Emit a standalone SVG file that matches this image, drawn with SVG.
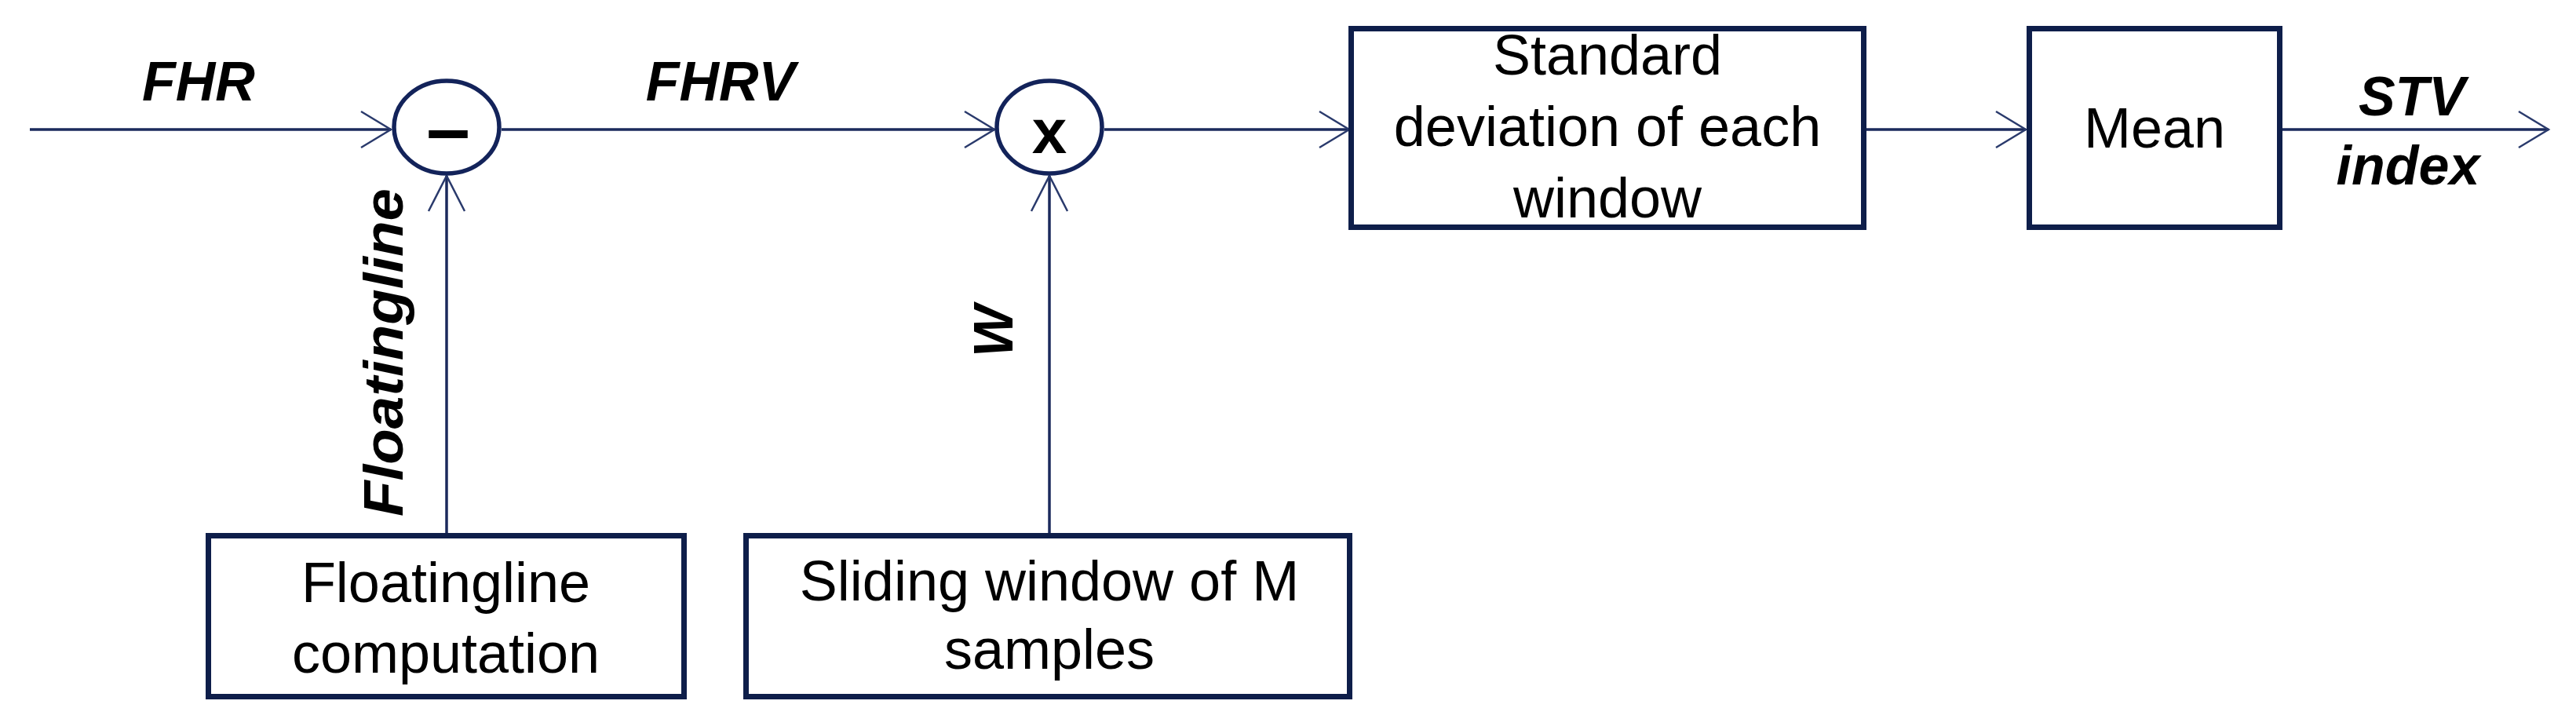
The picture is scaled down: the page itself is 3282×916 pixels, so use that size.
<svg xmlns="http://www.w3.org/2000/svg" width="3282" height="916" viewBox="0 0 3282 916">
<style>
.lbl{font-family:"Liberation Sans",Arial,sans-serif;font-size:72px;fill:#000;text-anchor:middle}
.sig{font-family:"Liberation Sans",Arial,sans-serif;font-size:70px;font-weight:bold;font-style:italic;fill:#000;text-anchor:middle}
.box{fill:#fff;stroke:#0e1e4a;stroke-width:7}
.op{fill:#fff;stroke:#13235a;stroke-width:5.5}
.wire{fill:none;stroke:#1b2a5c;stroke-width:3.5}
</style>
<defs>
<marker id="ah" markerUnits="userSpaceOnUse" orient="auto" refX="0" refY="0" markerWidth="60" markerHeight="60" viewBox="-50 -30 60 60" overflow="visible">
<path d="M -38 -23 L 0 0 L -38 23" fill="none" stroke="#2a3a6c" stroke-width="2.5"/>
</marker>
<marker id="av" markerUnits="userSpaceOnUse" orient="auto" refX="0" refY="0" markerWidth="60" markerHeight="60" viewBox="-50 -30 60 60" overflow="visible">
<path d="M -45 -23 L 0 0 L -45 23" fill="none" stroke="#2a3a6c" stroke-width="2.5"/>
</marker>
</defs>
<rect width="3282" height="916" fill="#fff"/>
<g id="connectors">
<line class="wire" x1="38" y1="165" x2="498" y2="165" marker-end="url(#ah)"/>
<line class="wire" x1="639" y1="165" x2="1267" y2="165" marker-end="url(#ah)"/>
<line class="wire" x1="1407" y1="165" x2="1719" y2="165" marker-end="url(#ah)"/>
<line class="wire" x1="2378" y1="165" x2="2581" y2="165" marker-end="url(#ah)"/>
<line class="wire" x1="2908" y1="165" x2="3247" y2="165" marker-end="url(#ah)"/>
<line class="wire" x1="569" y1="679" x2="569" y2="224" marker-end="url(#av)"/>
<line class="wire" x1="1337" y1="679" x2="1337" y2="224" marker-end="url(#av)"/>
<text class="sig" x="253" y="128">FHR</text>
<text class="sig" x="918" y="128">FHRV</text>
<text class="sig" x="3073" y="147">STV</text>
<text class="sig" x="3068" y="235">index</text>
<text class="sig" transform="translate(513,449) rotate(-90)" textLength="418" lengthAdjust="spacingAndGlyphs">Floatingline</text>
<text class="sig" transform="translate(1290,422) rotate(-90)">W</text>
</g>
<g id="subtract">
<ellipse class="op" cx="569" cy="162" rx="67" ry="59"/>
<text x="571" y="198" font-family="Liberation Sans,Arial,sans-serif" font-size="100" font-weight="bold" text-anchor="middle">–</text>
</g>
<g id="multiply">
<ellipse class="op" cx="1337" cy="162" rx="67" ry="59"/>
<text x="1337" y="195" font-family="Liberation Sans,Arial,sans-serif" font-size="80" font-weight="bold" text-anchor="middle">x</text>
</g>
<g id="stddev">
<rect class="box" x="1721.5" y="36.5" width="653" height="253"/>
<text class="lbl" x="2048" y="95">Standard</text>
<text class="lbl" x="2048" y="186">deviation of each</text>
<text class="lbl" x="2048" y="277">window</text>
</g>
<g id="mean">
<rect class="box" x="2585.5" y="36.5" width="319" height="253"/>
<text class="lbl" x="2745" y="188">Mean</text>
</g>
<g id="floatingline">
<rect class="box" x="265.5" y="682.5" width="606" height="205"/>
<text class="lbl" x="568" y="767">Floatingline</text>
<text class="lbl" x="568" y="857">computation</text>
</g>
<g id="window">
<rect class="box" x="950.5" y="682.5" width="769" height="205"/>
<text class="lbl" x="1337" y="765">Sliding window of M</text>
<text class="lbl" x="1337" y="852">samples</text>
</g>
</svg>
